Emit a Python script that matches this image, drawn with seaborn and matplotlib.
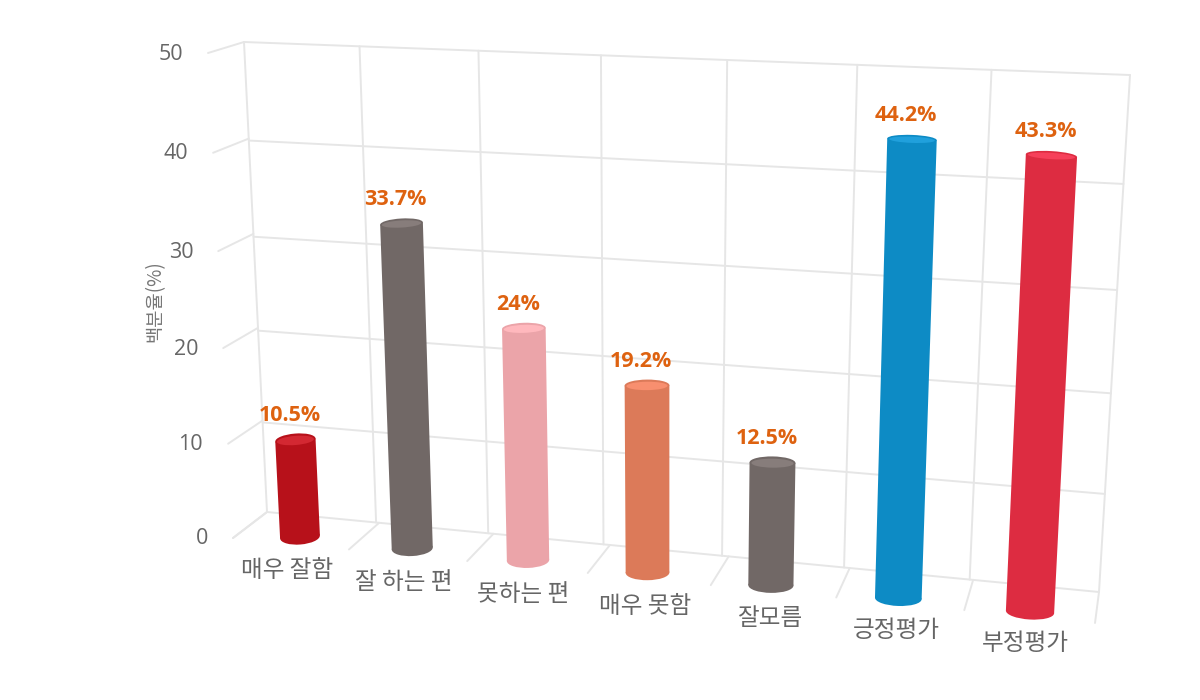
import numpy as np
import pandas as pd
import matplotlib
matplotlib.use('Agg')
import matplotlib.pyplot as plt
import seaborn as sns
from matplotlib.patches import Ellipse
from matplotlib.transforms import Transform

sns.set_theme(style="white")
plt.rcParams['font.family'] = ['Noto Sans CJK KR', 'DejaVu Sans']

# chart data
categories = ["매우 잘함", "잘 하는 편", "못하는 편", "매우 못함", "잘모름", "긍정평가", "부정평가"]
values = [10.5, 33.7, 24, 19.2, 12.5, 44.2, 43.3]
value_labels = ["10.5%", "33.7%", "24%", "19.2%", "12.5%", "44.2%", "43.3%"]
y_ticks = [0, 10, 20, 30, 40, 50]
y_title = "백분율(%)"

# colours
bar_colors = ["#b7111a", "#716866", "#eba4a9", "#dc7a59", "#716866", "#0d8bc5", "#dd2c41"]
cap_colors = ["#d32832", "#877d7b", "#ffb8bd", "#f88f6f", "#877d7b", "#20a0dc", "#f6405a"]
grid_color = "#e6e6e6"
text_color = "#666666"
label_color = "#de6210"

# the 3D look: where each chart plane lands on the picture (pixels)
x_lo, x_hi = -0.5, 6.5
y_lo, y_hi = 0, 50
wall_corners = [(267, 512), (1099, 592), (1130, 75), (244, 42)]
floor_corners = [(267, 512), (1099, 592), (1095, 623), (233, 538)]
side_corners = [(267, 512), (233, 538), (208, 53), (244, 42)]
bar_corners = [(300, 537), (1030, 612), (1055, 80), (277, 52)]
bar_tilt = np.linspace(-0.08, 0.06, len(categories))


def homography(src, dst):
    A, b = [], []
    for (x, y), (u, v) in zip(src, dst):
        A.append([x, y, 1, 0, 0, 0, -u * x, -u * y])
        A.append([0, 0, 0, x, y, 1, -v * x, -v * y])
        b += [u, v]
    return np.append(np.linalg.solve(np.array(A, float), np.array(b, float)), 1).reshape(3, 3)


class PlaneTransform(Transform):
    input_dims = 2
    output_dims = 2

    def __init__(self, src, dst):
        super().__init__()
        self.H = homography(src, dst)

    def transform_non_affine(self, points):
        pts = np.column_stack([points, np.ones(len(points))]) @ self.H.T
        return pts[:, :2] / pts[:, 2:]


wall = PlaneTransform([(x_lo, y_lo), (x_hi, y_lo), (x_hi, y_hi), (x_lo, y_hi)], wall_corners)
floor = PlaneTransform([(x_lo, 0), (x_hi, 0), (x_hi, 1), (x_lo, 1)], floor_corners)
side = PlaneTransform([(0, y_lo), (1, y_lo), (1, y_hi), (0, y_hi)], side_corners)
bar_plane = PlaneTransform([(0, y_lo), (6, y_lo), (6, y_hi), (0, y_hi)], bar_corners)

df = pd.DataFrame({"category": categories, "value": values})

fig = plt.figure(figsize=(12, 7), dpi=100)
ax = fig.add_axes([0, 0, 1, 1])

sns.barplot(data=df, x="category", y="value", hue="category", palette=bar_colors,
            width=0.36, saturation=1, legend=False, ax=ax)

# axes now work in picture pixels, the planes do the mapping
ax.set_xlim(0, 1200)
ax.set_ylim(700, 0)
ax.axis("off")

# grid on the back wall, the floor and the left side
line_style = dict(color=grid_color, lw=1.4, zorder=1, solid_capstyle="round")
edges = np.arange(x_lo, x_hi + 1)
for e in edges:
    ax.plot([e, e], [y_lo, y_hi], transform=wall + ax.transData, **line_style)
    ax.plot([e, e], [0, 1], transform=floor + ax.transData, **line_style)
for t in y_ticks:
    ax.plot([x_lo, x_hi], [t, t], transform=wall + ax.transData, **line_style)
    ax.plot([0, 1], [t, t], transform=side + ax.transData, **line_style)
    px, py = side.transform((1, t))
    ax.text(px - 25, py + 1, str(t), ha="right", va="center", fontsize=15.5, color=text_color,
            family="Open Sans")

ax.text(155, 301, y_title, rotation=90, ha="center", va="center", fontsize=13.5, color="#777777")

# cylinders
for i, bar in enumerate(ax.patches):
    x0, w, v = bar.get_x(), bar.get_width(), bar.get_height()
    corners = []
    ends = []
    for level in (0, v):
        cx, cy = bar_plane.transform((x0 + w / 2, level))
        lx = bar_plane.transform((x0, level))[0]
        rx = bar_plane.transform((x0 + w, level))[0]
        half = (rx - lx) / 2
        slope = bar_tilt[i]
        corners.append(((cx - half, cy - half * slope), (cx + half, cy + half * slope)))
        ends.append((cx, cy, 2 * half, np.degrees(np.arctan(slope))))
    (bl, br), (tl, tr) = corners
    bar.set_transform(PlaneTransform([(x0, 0), (x0 + w, 0), (x0 + w, v), (x0, v)],
                                     [bl, br, tr, tl]) + ax.transData)
    bar.set_zorder(3)
    bar.set_linewidth(0)

    cx, cy, width, angle = ends[0]
    ax.add_patch(Ellipse((cx, cy), width, 15, angle=angle, color=bar_colors[i], lw=0, zorder=2.9))
    cx, cy, width, angle = ends[1]
    cap_h = 14 - v * 0.12
    ax.add_patch(Ellipse((cx, cy), width, cap_h, angle=angle, color=bar_colors[i], lw=0, zorder=3.1))
    ax.add_patch(Ellipse((cx, cy + 0.5), width * 0.92, cap_h * 0.72, angle=angle,
                         color=cap_colors[i], lw=0, zorder=3.2))
    ax.text(cx - 6, cy - 24, value_labels[i], ha="center", va="center", fontsize=15.5,
            fontweight="bold", color=label_color, zorder=4, family="Open Sans")

    fx, fy = floor.transform((i, 1))
    ax.text(fx - 4, fy + 27, categories[i], ha="center", va="center", fontsize=17, color=text_color)

fig.savefig("out.png", dpi=100, facecolor="white")
plt.close(fig)
